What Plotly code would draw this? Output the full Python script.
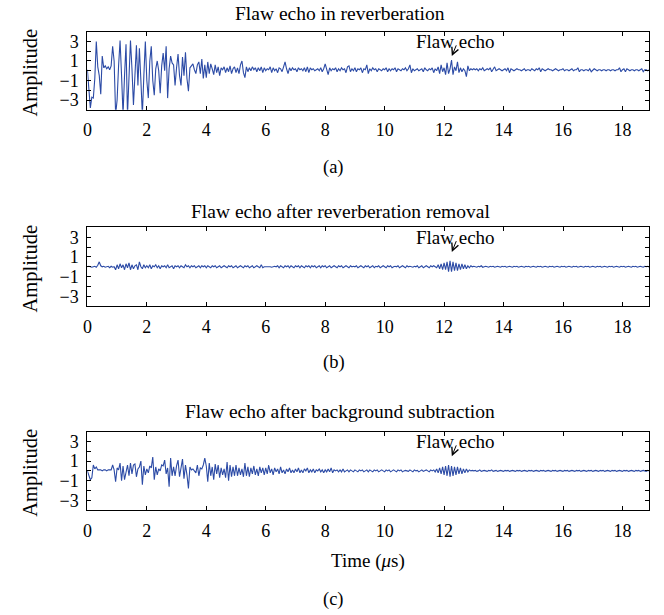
import numpy as np
import plotly.graph_objects as go

# sampling step (µs) of the read-off waveforms
dt = 0.05

amp_a = [
    0.1, -2.2, -3.8, -2.7, -2.8, -0.8, 3.0, 0.4, -0.5, -2.4, 1.5, 0.3, 0.5, 0.2, 0.4, 0.1, 0.5, 2.5, 1.0, -4.5,
    -3.0, 0.5, 3.1, -0.5, -4.5, -0.5, 2.7, -4.5, -0.5, 3.1, 0.2, -3.5, -0.5, 2.6, -1.5, 2.3, -1.0, -4.5, -0.5, 3.0,
    -1.0, -2.8, 1.0, 2.5, -1.0, -2.5, 0.2, 1.0, 0.0, -2.3, 0.5, 1.8, 0.0, 2.5, -2.8, 0.2, 1.5, 0.8, 0.6, -1.5,
    0.3, 1.7, -0.5, -1.5, 1.4, -0.5, 1.9, -0.8, -2.1, 0.3, 0.5, 0.7, 0.1, -0.3, 0.6, 0.9, -0.3, 1.2, -0.8, 0.6,
    -0.7, 0.9, -0.3, 0.7, 0.2, -0.4, 0.6, -0.2, 0.4, -0.5, 0.3, 0.1, 0.4, -0.2, 0.3, -0.1, 0.5, -0.3, 0.2, 0.4,
    -0.2, 0.3, -0.3, 0.6, 1.0, -0.2, -0.7, 0.4, -0.1, 0.3, 0.0, 0.4, 0.1, 0.3, -0.1, 0.3, 0.0, 0.4, -0.2, 0.3,
    0.0, 0.2, 0.1, 0.4, -0.2, 0.3, 0.0, 0.2, -0.2, 0.3, 0.2, -0.1, 0.4, 0.9, 0.2, -0.3, 0.3, 0.0, 0.3, 0.1,
    0.2, -0.1, 0.3, 0.1, 0.2, 0.0, 0.3, -0.1, 0.4, -0.2, 0.3, 0.1, 0.2, 0.0, 0.1, 0.2, 0.0, 0.3, -0.1, 0.2,
    0.7, 0.1, -0.4, 0.3, 0.0, 0.2, 0.1, 0.3, -0.1, 0.2, 0.0, 0.3, 0.1, 0.2, -0.2, 0.4, 0.5, -0.1, 0.2, 0.0,
    0.3, -0.1, 0.2, 0.1, 0.3, -0.2, 0.2, 0.1, 0.6, -0.3, 0.2, 0.0, 0.3, 0.1, 0.2, -0.1, 0.2, 0.1, 0.0, 0.2,
    0.1, 0.3, -0.1, 0.2, 0.0, 0.2, 0.1, 0.3, -0.1, 0.2, 0.1, 0.0, 0.2, 0.1, 0.3, 0.0, 0.2, 0.6, -0.2, 0.2,
    0.0, 0.1, 0.2, 0.0, 0.1, 0.2, -0.1, 0.3, 0.1, 0.0, 0.2, 0.1, 0.3, -0.2, 0.2, 0.0, 0.4, -0.3, 0.6, -0.1,
    0.3, -0.4, 0.8, -0.3, 0.2, 1.1, -0.4, 0.4, 0.0, 0.9, -0.2, 0.3, -0.1, 0.2, 0.0, -0.6, 0.5, 0.0, 0.2, 0.1,
    0.2, 0.1, 0.2, 0.0, 0.2, 0.1, 0.3, 0.0, 0.1, 0.2, 0.1, 0.3, -0.1, 0.2, 0.4, 0.0, 0.1, 0.2, 0.1, 0.0,
    0.1, 0.2, 0.0, 0.3, -0.2, 0.2, 0.1, 0.0, 0.1, 0.2, 0.1, 0.1, 0.0, 0.1, 0.2, 0.0, 0.1, 0.1, 0.0, 0.2,
    0.1, 0.0, 0.2, 0.1, 0.3, -0.1, 0.2, 0.1, 0.0, 0.1, 0.2, 0.1, 0.1, 0.0, 0.1, 0.2, 0.1, 0.0, 0.1, 0.1,
    0.2, 0.0, 0.1, 0.1, 0.0, 0.1, 0.2, 0.0, 0.1, 0.1, 0.3, -0.1, 0.1, 0.1, 0.0, 0.1, 0.1, 0.0, 0.2, -0.1,
    0.1, 0.2, 0.1, 0.0, 0.1, 0.1, 0.0, 0.1, 0.1, 0.0, 0.1, 0.1, 0.0, 0.1, 0.1, 0.0, 0.1, 0.1, 0.3, -0.1,
    0.1, 0.2, -0.1, 0.2, 0.1, 0.0, 0.1, 0.1, 0.0, 0.1, 0.1, 0.0, 0.1, 0.2, -0.1, 0.1, 0.1, 0.0, 0.1, 0.1,
]

amp_b = [
    0.0, 0.05, 0.0, -0.05, 0.0, 0.05, -0.05, 0.15, 0.5, 0.1, 0.0, 0.05, -0.05, 0.0, 0.05, -0.1, 0.05, -0.05, 0.0, -0.3,
    0.2, -0.2, 0.3, -0.1, 0.2, -0.3, 0.3, -0.1, 0.4, -0.3, 0.2, -0.2, 0.1, 0.2, -0.3, 0.5, 0.0, -0.2, 0.2, -0.1,
    0.1, -0.1, 0.2, -0.2, 0.1, 0.0, 0.2, -0.1, 0.1, -0.2, 0.1, 0.0, 0.1, -0.1, 0.2, -0.1, 0.0, 0.1, -0.2, 0.1,
    0.0, 0.1, -0.1, 0.1, 0.0, -0.1, 0.2, 0.0, 0.1, -0.1, 0.1, 0.0, 0.1, -0.1, 0.0, 0.1, -0.1, 0.1, 0.0, 0.1,
    -0.1, 0.1, 0.0, -0.1, 0.1, 0.0, 0.1, -0.1, 0.0, 0.1, -0.1, 0.0, 0.1, 0.0, -0.1, 0.1, 0.0, 0.1, -0.1, 0.0,
    0.1, -0.1, 0.0, 0.1, 0.0, -0.1, 0.1, 0.0, 0.1, -0.1, 0.0, 0.1, -0.1, 0.0, 0.1, 0.0, -0.1, 0.2, -0.1, 0.0,
    0.0, 0.0, 0.05, 0.0, -0.05, 0.0, 0.05, 0.0, 0.1, -0.1, 0.1, 0.0, -0.1, 0.1, 0.0, 0.1, -0.1, 0.1, 0.0, -0.1,
    0.1, 0.0, 0.1, -0.1, 0.1, 0.0, -0.1, 0.1, 0.0, 0.1, -0.1, 0.1, 0.0, 0.1, -0.1, 0.0, 0.1, -0.1, 0.1, 0.0,
    0.1, -0.1, 0.0, 0.1, -0.1, 0.0, 0.1, 0.0, -0.1, 0.1, 0.0, 0.1, -0.1, 0.0, 0.1, 0.0, -0.1, 0.1, 0.0, 0.05,
    0.0, 0.1, -0.1, 0.0, 0.1, 0.0, -0.1, 0.1, 0.0, 0.1, -0.1, 0.0, 0.1, -0.1, 0.05, 0.0, 0.1, -0.1, 0.0, 0.1,
    0.0, -0.1, 0.1, 0.0, 0.1, -0.1, 0.0, 0.05, 0.0, 0.1, -0.1, 0.0, 0.1, 0.0, -0.1, 0.1, 0.0, 0.05, 0.0, -0.05,
    0.05, 0.0, 0.1, -0.1, 0.0, 0.1, -0.1, 0.0, 0.1, 0.0, -0.1, 0.1, 0.0, 0.1, 0.0, -0.1, 0.2, -0.2, 0.3, -0.3,
    0.4, -0.3, 0.5, -0.5, 0.6, -0.5, 0.5, -0.4, 0.4, -0.4, 0.3, -0.3, 0.3, -0.2, 0.2, -0.2, 0.1, -0.1, 0.1, 0.0,
    0.05, 0.0, -0.05, 0.05, 0.0, 0.1, -0.05, 0.0, 0.05, 0.0, -0.05, 0.05, 0.0, 0.05, -0.05, 0.0, 0.05, 0.0, -0.05, 0.05,
    0.0, 0.05, -0.05, 0.0, 0.05, 0.0, -0.05, 0.05, 0.0, 0.05, -0.05, 0.0, 0.05, 0.0, -0.05, 0.05, 0.0, 0.05, -0.05, 0.0,
    0.05, 0.0, -0.05, 0.05, 0.0, 0.05, -0.05, 0.0, 0.05, 0.0, -0.05, 0.05, 0.0, 0.05, -0.05, 0.0, 0.05, 0.0, -0.05, 0.05,
    0.0, 0.05, -0.05, 0.0, 0.05, 0.0, -0.05, 0.05, 0.0, 0.05, -0.05, 0.0, 0.05, 0.0, -0.05, 0.05, 0.0, 0.05, -0.05, 0.0,
    0.05, 0.0, -0.05, 0.05, 0.0, 0.05, -0.05, 0.0, 0.05, 0.0, -0.05, 0.05, 0.0, 0.05, -0.05, 0.0, 0.05, 0.0, -0.05, 0.05,
    0.0, 0.05, -0.05, 0.0, 0.05, 0.0, -0.05, 0.05, 0.0, 0.05, -0.05, 0.0, 0.05, 0.0, -0.05, 0.05, 0.0, 0.05, -0.05, 0.0,
]

amp_c = [
    0.0, -0.5, -0.9, -0.7, 0.6, 0.2, 0.4, 0.1, 0.1, 0.1, 0.0, 0.1, 0.1, 0.0, 0.1, 0.1, 0.1, 0.6, 0.1, -1.1,
    0.3, 0.1, 0.8, -1.0, 0.5, -0.9, 0.1, 0.6, -0.5, 0.8, -0.3, 0.6, 0.7, -0.6, 0.2, 0.4, 1.0, -1.4, 0.5, -0.4,
    0.2, -0.2, 0.5, 0.3, 1.4, -0.9, 0.4, -0.4, 0.2, 0.0, 0.6, 0.5, 1.1, -0.3, 0.3, -1.6, 1.3, -0.5, 0.4, -0.5,
    0.5, 1.1, -0.6, 0.3, 1.2, -0.8, 0.6, -0.4, -1.8, 0.4, 0.1, 0.2, 0.0, -0.2, 0.6, -0.5, 0.3, 0.2, 0.6, 1.3,
    0.5, -1.1, 0.8, -0.5, 0.4, -0.9, 0.7, -0.3, 0.6, -0.7, 0.3, -0.4, 0.2, -0.7, 0.9, -1.0, 0.6, -0.6, 0.4, -0.5,
    0.6, -0.5, 0.3, -0.4, 0.2, -0.6, 0.8, -0.5, 0.4, -0.6, 0.3, -0.3, 0.5, -0.4, 0.2, -0.5, 0.4, -0.2, 0.3, -0.4,
    0.3, -0.3, 0.6, -0.2, 0.2, -0.4, 0.3, -0.1, 0.2, -0.3, 0.4, -0.2, 0.1, -0.3, 0.2, -0.1, 0.3, -0.2, 0.1, -0.2,
    0.2, -0.1, 0.3, -0.2, 0.1, -0.2, 0.2, 0.0, 0.3, -0.2, 0.1, -0.1, 0.2, -0.2, 0.1, 0.0, 0.2, -0.1, 0.1, -0.2,
    0.1, -0.1, 0.2, -0.1, 0.3, -0.2, 0.1, 0.0, 0.1, -0.1, 0.1, -0.1, 0.2, -0.1, 0.0, 0.1, -0.1, 0.1, 0.0, -0.1,
    0.1, 0.0, -0.1, 0.1, 0.0, 0.1, -0.1, 0.0, 0.1, -0.1, 0.1, 0.0, -0.1, 0.1, 0.0, 0.1, -0.1, 0.0, 0.1, 0.0,
    -0.1, 0.1, 0.0, 0.1, -0.1, 0.0, 0.1, 0.0, -0.1, 0.1, 0.0, 0.1, -0.1, 0.0, 0.05, 0.0, -0.05, 0.1, 0.0, -0.1,
    0.1, 0.0, 0.05, -0.1, 0.0, 0.1, -0.05, 0.0, 0.1, 0.0, -0.1, 0.1, 0.0, 0.1, -0.1, 0.2, -0.2, 0.3, -0.3, 0.4,
    -0.4, 0.5, -0.5, 0.6, -0.6, 0.5, -0.5, 0.4, -0.4, 0.4, -0.3, 0.3, -0.3, 0.2, -0.2, 0.2, -0.1, 0.1, 0.0, 0.05,
    0.0, 0.05, -0.05, 0.0, 0.1, -0.05, 0.0, 0.05, 0.0, -0.05, 0.05, 0.0, 0.1, -0.05, 0.0, 0.05, -0.05, 0.0, 0.05, 0.0,
    -0.05, 0.05, 0.0, 0.05, -0.05, 0.0, 0.05, 0.0, -0.05, 0.05, 0.0, 0.05, -0.05, 0.0, 0.05, 0.0, -0.05, 0.05, 0.0, 0.05,
    -0.05, 0.0, 0.05, 0.0, -0.05, 0.05, 0.0, 0.05, -0.05, 0.0, 0.05, 0.0, -0.05, 0.05, 0.0, 0.05, -0.05, 0.0, 0.05, 0.0,
    -0.05, 0.05, 0.0, 0.05, -0.05, 0.0, 0.05, 0.0, -0.05, 0.05, 0.0, 0.05, -0.05, 0.0, 0.05, 0.0, -0.05, 0.05, 0.0, 0.05,
    -0.05, 0.0, 0.05, 0.0, -0.05, 0.05, 0.0, 0.05, -0.05, 0.0, 0.05, 0.0, -0.05, 0.05, 0.0, 0.05, -0.05, 0.0, 0.05, 0.0,
    -0.05, 0.05, 0.0, 0.05, -0.05, 0.0, 0.05, 0.0, -0.05, 0.05, 0.0, 0.05, -0.05, 0.0, 0.05, 0.0, -0.05, 0.05, 0.0, 0.05,
]

titles = ["Flaw echo in reverberation",
          "Flaw echo after reverberation removal",
          "Flaw echo after background subtraction"]
captions = ["(a)", "(b)", "(c)"]
x_ticks = [0, 2, 4, 6, 8, 10, 12, 14, 16, 18]
y_ticks = [-3, -2, -1, 0, 1, 2, 3]
y_ticktext = ["\u22123", "", "\u22121", "", "1", "", "3"]
flaw_label = "Flaw echo"
flaw_text_pos = (12.4, 2.95)
flaw_arrow_tip = (12.26, 1.5)
flaw_arrow_tail = (12.43, 2.75)
x_label = "Time (<i>\u03bc</i>s)"
y_label = "Amplitude"

W, H = 664, 615
FONT = "Liberation Serif"
COLOR = "#2c4ba6"


def fx(px):
    return px / W


def fy(py):
    return 1 - py / H


# panel boxes in window pixels (top, bottom)
panels_px = [(31.7, 110.0), (227.7, 306.7), (432.3, 511.0)]
x_left_px, x_right_px = 83.0, 648.5
title_y_px = [13.5, 211.7, 411.7]
caption_y_px = [168.0, 363.0, 600.0]

fig = go.Figure()
series = [amp_a, amp_b, amp_c]
for i, amp in enumerate(series):
    t = np.arange(len(amp)) * dt
    xa = "x" if i == 0 else f"x{i+1}"
    ya = "y" if i == 0 else f"y{i+1}"
    fig.add_trace(go.Scatter(x=t, y=amp, mode="lines", xaxis=xa, yaxis=ya,
                             line=dict(color=COLOR, width=1.1), showlegend=False,
                             hoverinfo="skip"))

axis_common = dict(showline=True, linecolor="black", linewidth=1, mirror="ticks",
                   ticks="inside", ticklen=4, tickcolor="black", showgrid=False,
                   zeroline=False, tickfont=dict(family=FONT, size=18, color="black"))

annotations = []
for i in range(3):
    top, bot = panels_px[i]
    sfx = "" if i == 0 else str(i + 1)
    fig.layout["xaxis" + sfx] = dict(domain=[fx(x_left_px), fx(x_right_px)], range=[0, 18.88],
                                     tickvals=x_ticks, anchor="y" + sfx,
                                     ticklabelstandoff=4, **axis_common)
    fig.layout["yaxis" + sfx] = dict(domain=[fy(bot), fy(top)], range=[-4, 4], tickvals=y_ticks,
                                     ticktext=y_ticktext, anchor="x" + sfx,
                                     ticklabelstandoff=4, **axis_common)
    annotations.append(dict(text=titles[i], xref="paper", yref="paper", x=fx(338),
                            y=fy(title_y_px[i]), showarrow=False, xanchor="center",
                            yanchor="middle", font=dict(family=FONT, size=19.5, color="black")))
    annotations.append(dict(text=captions[i], xref="paper", yref="paper", x=fx(331),
                            y=fy(caption_y_px[i]), showarrow=False, xanchor="center",
                            yanchor="middle", font=dict(family=FONT, size=18.5, color="black")))
    annotations.append(dict(text=y_label, xref="paper", yref="paper", x=fx(26),
                            y=fy((top + bot) / 2 + 2), showarrow=False, textangle=-90,
                            xanchor="center", yanchor="middle",
                            font=dict(family=FONT, size=20.5, color="black")))
    annotations.append(dict(text=flaw_label, xref="x" + sfx, yref="y" + sfx,
                            x=flaw_text_pos[0], y=flaw_text_pos[1], showarrow=False,
                            xanchor="center", yanchor="middle",
                            font=dict(family=FONT, size=19, color="black")))
    annotations.append(dict(text="", xref="x" + sfx, yref="y" + sfx,
                            x=flaw_arrow_tip[0], y=flaw_arrow_tip[1],
                            axref="x" + sfx, ayref="y" + sfx,
                            ax=flaw_arrow_tail[0], ay=flaw_arrow_tail[1],
                            showarrow=True, arrowhead=5, arrowsize=1.4, arrowwidth=1,
                            arrowcolor="black"))

annotations.append(dict(text=x_label, xref="paper", yref="paper", x=fx(366), y=fy(561.7),
                        showarrow=False, xanchor="center", yanchor="middle",
                        font=dict(family=FONT, size=19, color="black")))

fig.update_layout(width=W, height=H, margin=dict(l=0, r=0, t=0, b=0),
                  paper_bgcolor="white", plot_bgcolor="white", annotations=annotations,
                  font=dict(family=FONT, color="black"))

# remove the default page margin so the figure sits at the window's top-left corner
fig.write_html("out.html", config={"displayModeBar": False},
               post_script="document.body.style.margin='0';")
